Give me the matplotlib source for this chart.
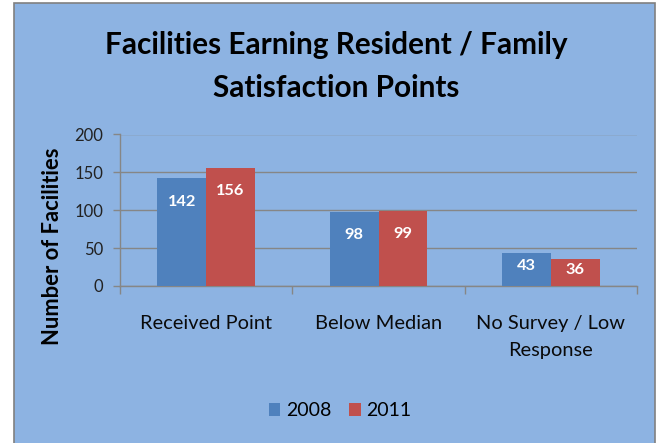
import matplotlib
matplotlib.use("Agg")
import matplotlib.pyplot as plt
from matplotlib.patches import Rectangle

categories = ["Received Point", "Below Median", "No Survey / Low\nResponse"]
years = ["2008", "2011"]
values_2008 = [142, 98, 43]
values_2011 = [156, 99, 36]
yticks = [0, 50, 100, 150, 200]

BLUE = "#4F81BD"
RED = "#C0504D"
BG = "#8DB3E2"
GRID = "#868686"

plt.rcParams["font.family"] = ["Lato", "DejaVu Sans"]

fig = plt.figure(figsize=(6.59, 4.43), dpi=100)
fig.patch.set_facecolor("white")

# blue chart area with grey frame (drawn under the axes)
fig.patches.append(Rectangle((14 / 659, -0.01), 641 / 659, 440 / 443 + 0.01,
                             transform=fig.transFigure, facecolor=BG,
                             edgecolor="#808080", linewidth=1.2, zorder=-5))

ax = fig.add_axes([120 / 659, 1 - 286 / 443, 517 / 659, 151.5 / 443])
ax.set_facecolor("none")

x = list(range(len(categories)))
w = 0.284
bars1 = ax.bar([i - w / 2 for i in x], values_2008, w, color=BLUE, label=years[0], zorder=3)
bars2 = ax.bar([i + w / 2 for i in x], values_2011, w, color=RED, label=years[1], zorder=3)

for bars, vals in ((bars1, values_2008), (bars2, values_2011)):
    for b, v in zip(bars, vals):
        ax.text(b.get_x() + b.get_width() / 2, v - min(31, 0.4 * v), str(v),
                ha="center", va="center", color="white", fontsize=11.8,
                fontweight="bold", zorder=4)

ax.set_xlim(-0.5, 2.5)
ax.set_ylim(0, 200)
ax.set_yticks(yticks)
ax.yaxis.grid(True, color=GRID, linewidth=1.0, zorder=1)
ax.set_axisbelow(True)

ax.set_xticks(x)
ax.set_xticklabels(categories, fontsize=14.4, color="#0a0a0a", linespacing=1.7)
ax.set_xticks([-0.5, 0.5, 1.5, 2.5], minor=True)
ax.tick_params(axis="x", which="major", length=0, pad=21)
ax.tick_params(axis="x", which="minor", length=6, color=GRID, width=1)
ax.tick_params(axis="y", length=5, color=GRID, width=1, labelsize=12,
               labelcolor="#222222", pad=7)

for s in ("top", "right"):
    ax.spines[s].set_visible(False)
for s in ("left", "bottom"):
    ax.spines[s].set_color(GRID)
    ax.spines[s].set_linewidth(1.0)

ax.set_ylabel("Number of Facilities", fontsize=15.8, fontweight="bold")
ax.yaxis.set_label_coords(-0.11, 0.264)

fig.text(336 / 659, 1 - 45 / 443, "Facilities Earning Resident / Family",
         ha="center", va="center", fontsize=21.4, fontweight="bold")
fig.text(336 / 659, 1 - 88 / 443, "Satisfaction Points",
         ha="center", va="center", fontsize=21.4, fontweight="bold")

leg = fig.legend(handles=[bars1, bars2], labels=years, loc="center",
                 bbox_to_anchor=(340 / 659, 1 - 411 / 443), ncol=2, frameon=False,
                 fontsize=14, handlelength=0.6, handleheight=0.6,
                 handletextpad=0.3, columnspacing=0.9)

fig.savefig("out.png", dpi=100, facecolor=fig.get_facecolor())
